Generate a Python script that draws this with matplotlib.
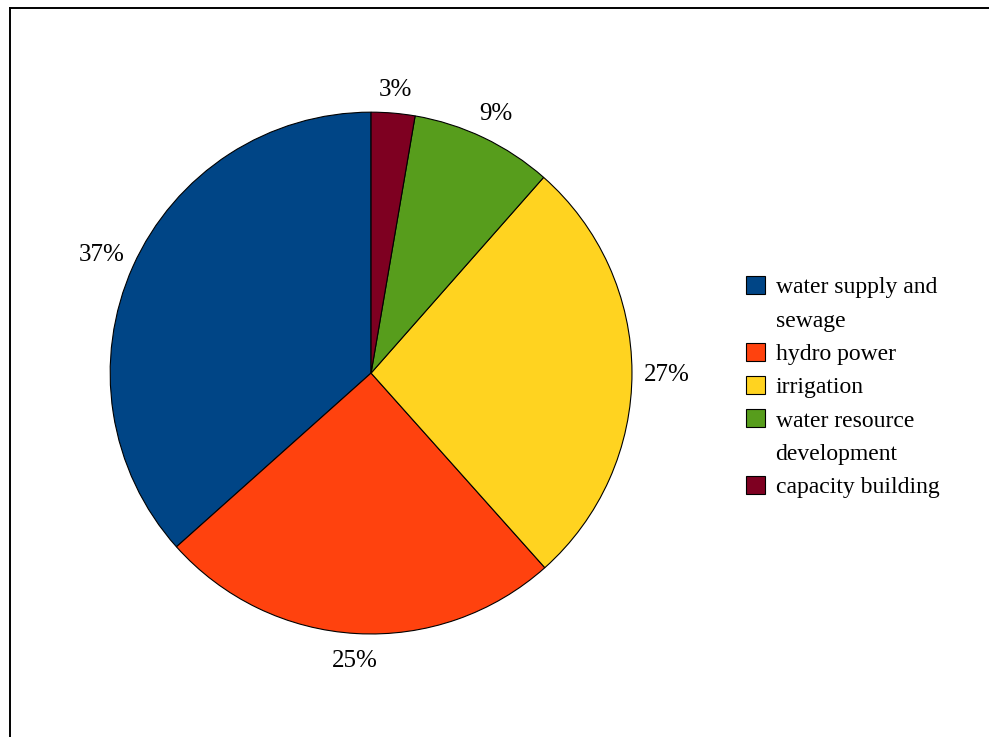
import matplotlib
matplotlib.use("Agg")
import numpy as np
from matplotlib import pyplot as plt
from matplotlib.lines import Line2D
from matplotlib.patches import Patch

plt.rcParams['font.family'] = ['Liberation Serif', 'DejaVu Serif']

# Data (shares of total, percent)
categories = ['water supply and\nsewage', 'hydro power', 'irrigation',
              'water resource\ndevelopment', 'capacity building']
shares = [36.6, 25.0, 26.9, 8.8, 2.7]
colors = ['#004586', '#ff420e', '#ffd320', '#579d1c', '#7e0021']

fig = plt.figure(figsize=(9.89, 7.37), dpi=100)
ax = fig.add_axes([0.1112, 0.1398, 0.528, 0.708])

wedges, texts, autotexts = ax.pie(
    shares,
    colors=colors,
    startangle=90,
    counterclock=True,
    autopct='%.0f%%',
    pctdistance=1.12,
    wedgeprops=dict(edgecolor='black', linewidth=0.8),
    textprops=dict(fontsize=18, color='black'),
)
ax.set_xlim(-1, 1)
ax.set_ylim(-1, 1)
ax.set_aspect('equal')

# labels sit a bit further out where they run sideways (wide text)
for w, t in zip(wedges, autotexts):
    theta = np.deg2rad((w.theta1 + w.theta2) / 2)
    r = 1.095 + 0.04 * abs(np.cos(theta))
    t.set_position((r * np.cos(theta), r * np.sin(theta)))
    t.set_va('center_baseline')

# legend: one row per text line, continuation lines get an empty handle
handles, labels = [], []
for w, cat in zip(wedges, categories):
    lines = cat.split('\n')
    handles.append(w)
    labels.append(lines[0])
    for extra in lines[1:]:
        handles.append(Patch(facecolor='none', edgecolor='none'))
        labels.append(extra)

leg = fig.legend(
    handles, labels,
    loc='upper left',
    bbox_to_anchor=(746 / 989, 1 - 276 / 737),
    frameon=False,
    fontsize=17,
    handlelength=0.8,
    handleheight=0.8,
    handletextpad=0.45,
    labelspacing=0.47,
    borderpad=0,
    borderaxespad=0,
)
for h in leg.legend_handles:
    if h.get_facecolor()[3] > 0:
        h.set_edgecolor('black')
        h.set_linewidth(0.8)

# partial frame around the chart area
fig.add_artist(Line2D([10 / 989, 1.0], [1 - 8 / 737, 1 - 8 / 737],
                      transform=fig.transFigure, color='black', linewidth=1.4))
fig.add_artist(Line2D([10 / 989, 10 / 989], [0.0, 1 - 8 / 737],
                      transform=fig.transFigure, color='black', linewidth=1.4))

fig.savefig('out.png', dpi=100)
